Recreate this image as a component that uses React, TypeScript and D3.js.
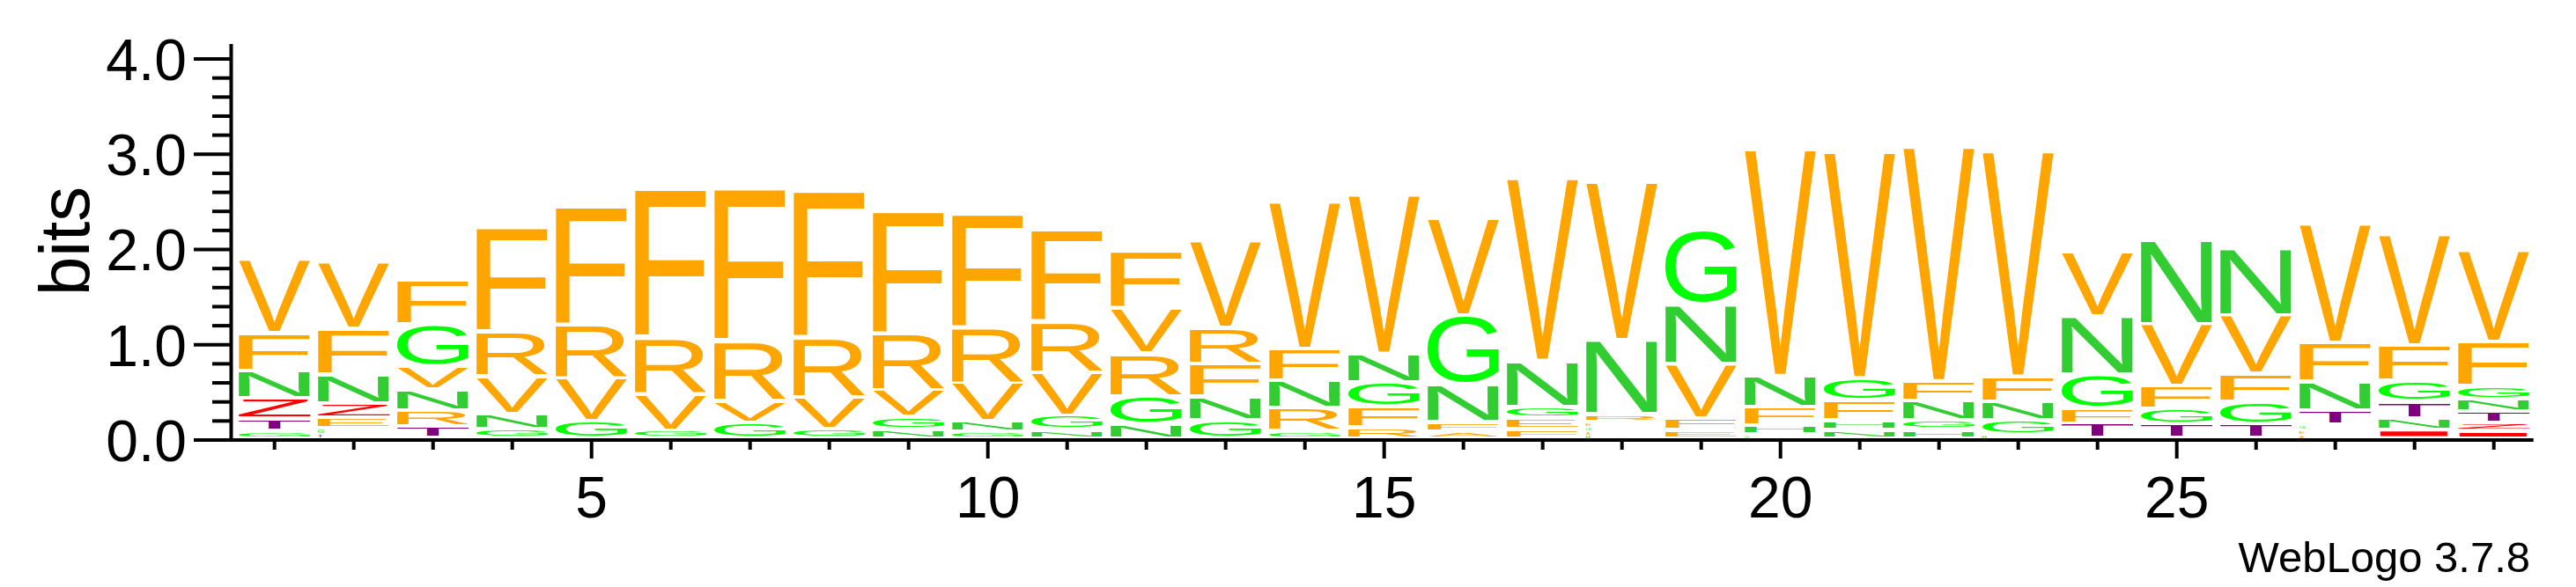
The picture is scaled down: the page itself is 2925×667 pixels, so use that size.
import React, { useMemo } from 'react';
import * as d3 from 'd3';

// sequence positions
const positions = [1, 2, 3, 4, 5, 6, 7, 8, 9, 10, 11, 12, 13, 14, 15, 16, 17, 18, 19, 20, 21, 22, 23, 24, 25, 26, 27, 28, 29];

// bits per letter, per position
const F = [0.4, 0.484, 0.462, 1.095, 1.237, 1.55, 1.587, 1.529, 1.286, 1.185, 0.966, 0.591, 0.346, 0.333, 0.217, 0.1, 0.1, 0, 0.12, 0.194, 0.203, 0.206, 0.266, 0.161, 0.239, 0.29, 0.406, 0.368, 0.469];
const V = [0.775, 0.708, 0.246, 0.397, 0.454, 0.385, 0.232, 0.331, 0.285, 0.402, 0.452, 0.477, 0.914, 1.55, 1.674, 1.025, 1.92, 1.664, 0.575, 2.382, 2.379, 2.464, 2.369, 0.683, 0.651, 0.615, 1.246, 1.163, 0.96];
const R = [0, 0, 0.172, 0.468, 0.563, 0.597, 0.634, 0.634, 0.6, 0.591, 0.539, 0.452, 0.381, 0.244, 0.115, 0, 0, 0.078, 0, 0, 0, 0, 0, 0, 0, 0, 0, 0, 0];
const N = [0.283, 0.306, 0.221, 0.156, 0, 0, 0, 0, 0.099, 0.109, 0.092, 0.145, 0.244, 0.291, 0.295, 0.399, 0.48, 0.778, 0.618, 0.323, 0.092, 0.2, 0.193, 0.606, 0.886, 0.702, 0.306, 0.12, 0.132];
const G = [0.08, 0.062, 0.44, 0.099, 0.183, 0.083, 0.162, 0.1, 0.124, 0.067, 0.148, 0.295, 0.192, 0.074, 0.259, 0.726, 0.118, 0.046, 0.782, 0.037, 0.235, 0.1, 0.15, 0.354, 0.16, 0.237, 0.052, 0.214, 0.135];
const T = [0.125, 0.046, 0.121, 0, 0, 0, 0, 0, 0, 0, 0, 0, 0, 0, 0, 0, 0, 0, 0, 0, 0, 0, 0, 0.155, 0.15, 0.15, 0.143, 0.178, 0.122];
const Z = [0.215, 0.147, 0, 0, 0, 0, 0, 0, 0, 0, 0, 0, 0, 0, 0, 0, 0, 0, 0, 0, 0, 0, 0, 0, 0, 0, 0, 0, 0.082];
const E = [0, 0.109, 0, 0, 0, 0, 0, 0, 0, 0, 0, 0, 0, 0, 0, 0, 0.114, 0.05, 0.09, 0, 0, 0, 0, 0, 0, 0, 0.048, 0, 0];
const A = [0, 0, 0, 0, 0, 0, 0, 0, 0, 0, 0, 0, 0, 0, 0, 0.067, 0, 0.04, 0, 0, 0, 0, 0, 0, 0, 0, 0.045, 0, 0];
const H = [0, 0, 0, 0, 0, 0, 0, 0, 0, 0, 0, 0, 0, 0, 0, 0, 0, 0.037, 0, 0.1, 0.1, 0.092, 0.037, 0, 0, 0, 0, 0, 0];
const I = [0, 0, 0, 0, 0, 0, 0, 0, 0, 0, 0, 0, 0, 0, 0, 0, 0, 0, 0, 0, 0, 0, 0, 0, 0, 0, 0, 0.09, 0.075];

const letters = [
  { ch: 'F', color: '#FFA500', values: F },
  { ch: 'V', color: '#FFA500', values: V },
  { ch: 'R', color: '#FFA500', values: R },
  { ch: 'E', color: '#FFA500', values: E },
  { ch: 'A', color: '#FFA500', values: A },
  { ch: 'N', color: '#32CD32', values: N },
  { ch: 'H', color: '#32CD32', values: H },
  { ch: 'G', color: '#00FF00', values: G },
  { ch: 'T', color: '#800080', values: T },
  { ch: 'Z', color: '#FF0000', values: Z },
  { ch: 'I', color: '#FF0000', values: I },
];

const yMajor = [0, 1, 2, 3, 4];

const FONT = "'Liberation Sans', Arial, Helvetica, sans-serif";

// ink box of every glyph at 100px, so letters can be stretched to fill their slot
function glyphMetrics() {
  const ctx = document.createElement('canvas').getContext('2d');
  const out = {};
  letters.forEach(l => {
    ctx.font = `100px ${FONT}`;
    const m = ctx.measureText(l.ch);
    out[l.ch] = {
      left: m.actualBoundingBoxLeft,
      right: m.actualBoundingBoxRight,
      ascent: m.actualBoundingBoxAscent,
      descent: m.actualBoundingBoxDescent,
    };
  });
  return out;
}

export default function App() {
  const width = 2925;
  const height = 667;

  const xScale = d3.scaleBand<number>()
    .domain(positions)
    .range([266.7, 2876.7])
    .paddingInner(0.094)
    .paddingOuter(0.047);

  const yScale = d3.scaleLinear().domain([0, 4]).range([500, 67]);

  const metrics = useMemo(glyphMetrics, []);

  const glyphs = [];
  positions.forEach((p, i) => {
    const stack = letters
      .map(l => ({ ch: l.ch, color: l.color, value: l.values[i] }))
      .filter(d => d.value > 0)
      .sort((a, b) => a.value - b.value);
    let cum = 0;
    stack.forEach(d => {
      const y0 = cum;
      cum += d.value;
      const top = yScale(cum);
      const slot = yScale(y0) - top;
      const gap = slot > 9 ? 4.5 : slot * 0.5;
      const ink = slot - gap;
      let w = xScale.bandwidth();
      if (ink < 3.5) w = Math.max(ink * 2.2, 2.5);
      const m = metrics[d.ch];
      const sx = w / (m.left + m.right);
      const sy = ink / (m.ascent + m.descent);
      const x0 = xScale(p);
      glyphs.push(
        <text
          key={`${p}-${d.ch}`}
          transform={`translate(${x0 + m.left * sx},${top + m.ascent * sy}) scale(${sx},${sy})`}
          fontSize={100}
          fontFamily={FONT}
          fill={d.color}
        >
          {d.ch}
        </text>
      );
    });
  });

  const axisX = 262.5;

  return (
    <svg width={width} height={height} style={{ position: 'absolute', left: 0, top: 0, background: '#fff' }}>
      {glyphs}

      {/* y axis */}
      <line x1={axisX} x2={axisX} y1={50} y2={502} stroke="#000" strokeWidth={4} />
      {yScale.ticks(20).map(v => {
        const major = Math.abs(v - Math.round(v)) < 1e-6;
        return (
          <line key={`yt${v}`} x1={major ? 220 : 241} x2={axisX} y1={yScale(v)} y2={yScale(v)} stroke="#000" strokeWidth={4} />
        );
      })}
      {yMajor.map(v => (
        <text key={`yl${v}`} x={212} y={yScale(v)} dy="0.36em" textAnchor="end" fontSize={66} fontFamily={FONT} fill="#000">
          {d3.format('.1f')(v)}
        </text>
      ))}
      <text transform="translate(101,274) rotate(-90)" textAnchor="middle" fontSize={80} fontFamily={FONT} fill="#000">
        bits
      </text>

      {/* x axis */}
      <line x1={axisX - 2} x2={2876.7} y1={500} y2={500} stroke="#000" strokeWidth={4} />
      {positions.map(p => {
        const cx = xScale(p) + xScale.bandwidth() / 2;
        const major = p % 5 === 0;
        return (
          <g key={`xt${p}`}>
            <line x1={cx} x2={cx} y1={500} y2={major ? 521 : 511} stroke="#000" strokeWidth={4} />
            {major && (
              <text x={cx} y={588} textAnchor="middle" fontSize={66} fontFamily={FONT} fill="#000">
                {p}
              </text>
            )}
          </g>
        );
      })}

      <text x={2873} y={650} textAnchor="end" fontSize={49} fontFamily={FONT} fill="#000">
        WebLogo 3.7.8
      </text>
    </svg>
  );
}
